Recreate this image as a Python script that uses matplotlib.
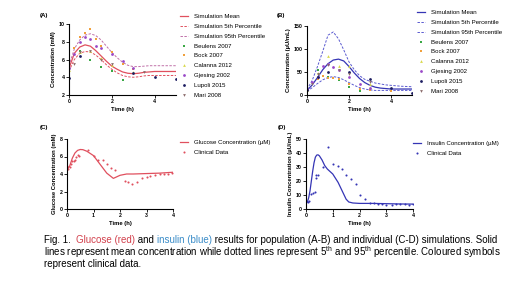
import matplotlib
matplotlib.use("Agg")
import matplotlib.pyplot as plt

plt.rcParams['font.family'] = ['Liberation Sans', 'DejaVu Sans']
plt.rcParams['mathtext.fontset'] = 'custom'
plt.rcParams['mathtext.rm'] = 'Liberation Sans'

RED = '#e0505e'
BLUE = '#3535b5'
BLUE_D = '#5a5ad0'
STUDY_COLORS = ['#3aa845', '#f0a03c', '#d8d84a', '#9a48c8', '#1c1c60', '#8a6a6a']
STUDY_MARKERS = ['s', 's', '^', 'o', 'o', 'v']

# ---- Panel A: population glucose (mM) ----
t_sim = [0, 0.25, 0.5, 0.75, 1, 1.25, 1.5, 1.75, 2, 2.25, 2.5, 2.75, 3, 3.25, 3.5, 3.75, 4, 4.5, 5]
glc_mean = [5.0, 6.7, 7.4, 7.65, 7.5, 7.0, 6.4, 5.8, 5.25, 4.9, 4.6, 4.45, 4.4, 4.45, 4.55, 4.6, 4.65, 4.65, 4.65]
glc_p5 = [4.7, 6.0, 6.7, 6.9, 6.85, 6.5, 6.0, 5.4, 4.9, 4.5, 4.2, 4.05, 4.0, 4.05, 4.15, 4.2, 4.2, 4.2, 4.2]
glc_p95 = [5.3, 7.2, 8.2, 8.75, 8.9, 8.7, 8.2, 7.5, 6.8, 6.2, 5.7, 5.35, 5.2, 5.2, 5.25, 5.3, 5.3, 5.3, 5.3]

studies = ['Beulens 2007', 'Bock 2007', 'Calanna 2012', 'Gjesing 2002', 'Lupoli 2015', 'Mari 2008']
glc_t = [
    [0, 0.5, 1, 1.5, 2, 2.5],
    [0, 0.25, 0.5, 0.75, 1, 1.25, 1.5, 2, 2.5, 3],
    [0, 0.5, 1, 1.5, 2, 3],
    [0, 0.25, 0.5, 0.75, 1, 1.25, 1.5, 2, 2.5, 3],
    [0, 0.5, 3, 4, 5],
    [0.25, 0.5, 1, 1.5, 2, 3.5],
]
glc_v = [
    [4.8, 7.0, 5.9, 5.1, 4.75, 3.7],
    [5.0, 7.3, 8.5, 9.0, 9.4, 8.3, 7.5, 6.8, 5.5, 4.9],
    [4.8, 6.8, 7.0, 6.2, 5.4, 4.6],
    [5.0, 6.6, 8.0, 8.5, 8.3, 7.5, 7.3, 6.6, 5.8, 5.0],
    [3.95, 6.4, 4.45, 4.0, 3.75],
    [5.5, 6.9, 7.0, 6.0, 5.5, 4.6],
]

# ---- Panel B: population insulin (uU/mL) ----
ins_mean = [10, 22, 38, 55, 68, 76, 78, 74, 62, 48, 36, 27, 21, 17, 15, 14, 13, 13, 13]
ins_p5 = [8, 16, 25, 33, 38, 40, 38, 33, 27, 21, 16, 13, 11, 10, 10, 10, 10, 10, 10]
ins_p95 = [12, 32, 62, 95, 130, 137, 122, 98, 72, 55, 42, 34, 30, 26, 24, 22, 21, 19, 18]

ins_t = [
    [0, 0.5, 1, 1.5, 2, 2.5],
    [0, 0.5, 0.75, 1, 1.25, 1.5, 2, 2.5, 3, 4],
    [0, 0.5, 1, 1.5, 2, 3],
    [0, 0.25, 0.5, 0.75, 1, 1.25, 1.5, 2, 2.5, 3],
    [0, 0.5, 1, 2, 3, 4, 5],
    [0.25, 0.5, 1, 1.5, 2, 3],
]
ins_v = [
    [5, 55, 40, 33, 18, 8],
    [8, 35, 42, 38, 37, 35, 25, 12, 10, 8],
    [10, 48, 85, 62, 62, 25],
    [12, 28, 40, 62, 68, 60, 55, 40, 25, 15],
    [10, 40, 50, 50, 35, 15, 5],
    [25, 45, 65, 55, 45, 28],
]

# ---- Panel C: individual glucose ----
c_t = [0, 0.05, 0.1, 0.2, 0.3, 0.4, 0.5, 0.6, 0.75, 1, 1.25, 1.5, 1.75, 2, 2.25, 2.5, 3, 3.5, 4]
c_sim = [5.0, 4.65, 4.9, 5.8, 6.4, 6.7, 6.8, 6.78, 6.6, 6.1, 5.1, 4.1, 3.5, 3.85, 4.0, 4.0, 4.05, 4.1, 4.2]
c_dt = [0, 0.05, 0.1, 0.15, 0.2, 0.25, 0.3, 0.35, 0.4, 0.45, 0.81, 1.0, 1.18, 1.34, 1.5, 1.66, 1.83,
        2.17, 2.3, 2.47, 2.65, 2.82, 3.0, 3.15, 3.32, 3.5, 3.66, 3.82, 3.97]
c_dv = [4.9, 4.6, 4.8, 5.2, 5.5, 5.45, 5.6, 6.0, 6.2, 6.1, 6.7, 6.1, 5.6, 5.65, 5.1, 4.65, 4.45,
        3.2, 3.05, 2.9, 3.05, 3.5, 3.65, 3.8, 3.9, 3.95, 4.0, 4.05, 4.1]

# ---- Panel D: individual insulin ----
d_t = [0, 0.05, 0.1, 0.15, 0.2, 0.25, 0.3, 0.35, 0.4, 0.45, 0.5, 0.6, 0.7, 0.8, 1.0, 1.2, 1.35, 1.5,
       1.6, 1.75, 2, 2.5, 3, 3.5, 4]
d_sim = [4, 5, 8, 13, 20, 27, 33, 37, 38.5, 38.7, 38, 35, 31, 28.5, 25, 19, 13, 7, 5, 4.3, 4, 4,
         3.8, 3.6, 3.5]
d_dt = [0, 0.06, 0.13, 0.19, 0.26, 0.32, 0.36, 0.38, 0.44, 0.64, 0.82, 1.0, 1.18, 1.35, 1.51, 1.69,
        1.86, 2.03, 2.2, 2.4, 2.55, 2.7, 2.85, 3.0, 3.2, 3.35, 3.5, 3.7, 3.85, 4.0]
d_dv = [5, 5, 6, 11, 11.5, 12.5, 22, 24.5, 24.5, 30.3, 44, 32, 30.5, 28.5, 24, 21.5, 18, 9.7, 7.3,
        4.5, 4.2, 3.8, 3.5, 3.2, 3.0, 3.6, 3.8, 3.4, 3.0, 3.5]

W, H = 520, 292
fig = plt.figure(figsize=(W / 100, H / 100), dpi=100)


def px_axes(x0, x1, ytop, ybot):
    return fig.add_axes([x0 / W, 1 - ybot / H, (x1 - x0) / W, (ybot - ytop) / H])


def style(ax, xlim, ylim, xticks, yticks, ylabel):
    ax.set_xlim(*xlim)
    ax.set_ylim(*ylim)
    ax.set_xticks(xticks)
    ax.set_yticks(yticks)
    for s in ['top', 'right']:
        ax.spines[s].set_visible(False)
    for s in ['left', 'bottom']:
        ax.spines[s].set_linewidth(0.8)
    ax.tick_params(length=2, width=0.6, pad=1, labelsize=3.8)
    for lab in ax.get_xticklabels() + ax.get_yticklabels():
        lab.set_fontweight('bold')
    ax.set_xlabel('Time (h)', fontsize=4.2, fontweight='bold', labelpad=2)
    ax.set_ylabel(ylabel, fontsize=4.2, fontweight='bold', labelpad=2)
    ax.patch.set_alpha(0)


leg_kw = dict(frameon=False, fontsize=4.4, handlelength=1.3, handletextpad=1.0,
              labelspacing=0.74, borderaxespad=0, borderpad=0, loc='upper left')

# Panel A
axA = px_axes(69, 176, 24, 95)
axA.plot(t_sim, glc_mean, color=RED, lw=0.9, label='Simulation Mean')
axA.plot(t_sim, glc_p5, color=RED, lw=0.7, ls=(0, (2.5, 1.5)), label='Simulation 5th Percentile')
axA.plot(t_sim, glc_p95, color='#c070a8', lw=0.7, ls=(0, (2.5, 1.5)), label='Simulation 95th Percentile')
for name, tt, vv, c, m in zip(studies, glc_t, glc_v, STUDY_COLORS, STUDY_MARKERS):
    axA.plot(tt, vv, ls='none', marker=m, ms=2.0, mew=0, color=c, label=name)
style(axA, (0, 5), (2, 10), [0, 2, 4], [2, 4, 6, 8, 10], 'Concentration (mM)')
axA.legend(bbox_to_anchor=(180 / W, 1 - 14 / H), bbox_transform=fig.transFigure, **leg_kw)
fig.text(40 / W, 1 - 15 / H, '(A)', fontsize=4.4, fontweight='bold', va='center')

# Panel B
axB = px_axes(307, 412, 26, 95)
axB.plot(t_sim, ins_mean, color=BLUE, lw=0.9, label='Simulation Mean')
axB.plot(t_sim, ins_p5, color=BLUE_D, lw=0.7, ls=(0, (2.5, 1.5)), label='Simulation 5th Percentile')
axB.plot(t_sim, ins_p95, color=BLUE_D, lw=0.7, ls=(0, (2.5, 1.5)), label='Simulation 95th Percentile')
for name, tt, vv, c, m in zip(studies, ins_t, ins_v, STUDY_COLORS, STUDY_MARKERS):
    axB.plot(tt, vv, ls='none', marker=m, ms=2.0, mew=0, color=c, label=name)
style(axB, (0, 5), (0, 150), [0, 2, 4], [0, 50, 100, 150], 'Concentration (µU/mL)')
axB.legend(bbox_to_anchor=(417 / W, 1 - 10 / H), bbox_transform=fig.transFigure, **leg_kw)
fig.text(277 / W, 1 - 15 / H, '(B)', fontsize=4.4, fontweight='bold', va='center')

# Panel C
axC = px_axes(67, 173, 139, 209)
axC.plot(c_t, c_sim, color=RED, lw=0.9, label='Glucose Concentration (µM)')
axC.plot(c_dt, c_dv, ls='none', marker='o', ms=1.5, mew=0, color=RED, label='Clinical Data')
style(axC, (0, 4), (0, 8), [0, 1, 2, 3, 4], [0, 2, 4, 6, 8], 'Glucose Concentration (mM)')
axC.legend(bbox_to_anchor=(180 / W, 1 - 140 / H), bbox_transform=fig.transFigure, **leg_kw)
fig.text(40 / W, 1 - 128 / H, '(C)', fontsize=4.4, fontweight='bold', va='center')

# Panel D
axD = px_axes(306, 413, 139, 209)
axD.plot(d_t, d_sim, color=BLUE, lw=0.9, label='Insulin Concentration (µM)')
axD.plot(d_dt, d_dv, ls='none', marker='o', ms=1.5, mew=0, color=BLUE, label='Clinical Data')
style(axD, (0, 4), (0, 50), [0, 1, 2, 3, 4], [0, 10, 20, 30, 40, 50], 'Insulin Concentration (µU/mL)')
axD.legend(bbox_to_anchor=(413 / W, 1 - 141 / H), bbox_transform=fig.transFigure, **leg_kw)
fig.text(278 / W, 1 - 128 / H, '(D)', fontsize=4.4, fontweight='bold', va='center')

# Caption with coloured words
cap_size = 7.0
line1 = [('Fig. 1.  ', 'black'), ('Glucose (red)', '#d2404c'), (' and ', 'black'),
         ('insulin (blue)', '#3a8cc8'),
         (' results for population (A-B) and individual (C-D) simulations. Solid', 'black')]
fig.canvas.draw()
renderer = fig.canvas.get_renderer()
x = 44 / W
for txt, col in line1:
    t = fig.text(x, 1 - 240 / H, txt, fontsize=cap_size, color=col, va='center')
    bb = t.get_window_extent(renderer)
    x += bb.width / W
fig.text(44 / W, 1 - 252 / H,
         'lines represent mean concentration while dotted lines represent 5$^{\\mathrm{th}}$ and '
         '95$^{\\mathrm{th}}$ percentile. Coloured symbols', fontsize=cap_size, va='center')
fig.text(44 / W, 1 - 264 / H, 'represent clinical data.', fontsize=cap_size, va='center')

fig.savefig('out.png', dpi=100)
